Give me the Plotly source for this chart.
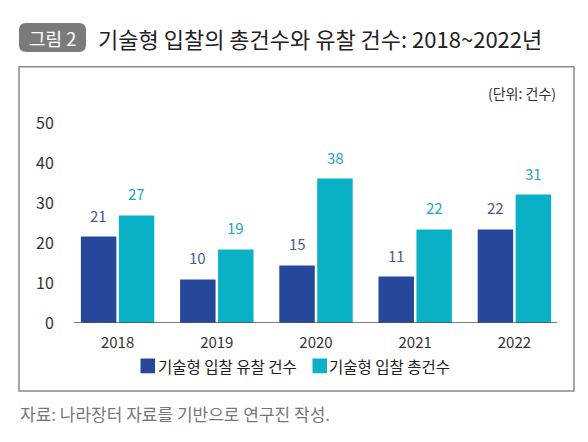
import plotly.graph_objects as go

# ---- data ----
years = ["2018", "2019", "2020", "2021", "2022"]
fail_labels = [21, 10, 15, 11, 22]          # 기술형 입찰 유찰 건수 (printed labels)
total_labels = [27, 19, 38, 22, 31]         # 기술형 입찰 총건수 (printed labels)
fail_bar_heights = [21.6, 10.9, 14.4, 11.6, 23.4]   # bar heights as drawn
total_bar_heights = [26.9, 18.4, 36.1, 23.4, 32.1]
y_ticks = [0, 10, 20, 30, 40, 50]
series_names = ["기술형 입찰 유찰 건수", "기술형 입찰 총건수"]

FONT = "Noto Sans CJK KR"
BLUE = "#26489b"
TEAL = "#0ab1c6"
BLUE_TXT = "#4a5a9c"
TEAL_TXT = "#22a8bd"

OFF = 8                     # page body margin
FW, FH = 588 - OFF, 442 - OFF
L, R, T, B = 60, 24, 107, 119
W = FW - L - R
H = FH - T - B
Y0 = FH - B


def xp(px):
    return (px - OFF - L) / W


def yp(py):
    return (Y0 - (py - OFF)) / H


def rounded_rect(x0, y0, x1, y1, r):
    rx = r / W
    ry = r / H
    a, b, c, d = xp(x0), yp(y1), xp(x1), yp(y0)  # left, bottom, right, top
    return (f"M {a+rx},{b} L {c-rx},{b} Q {c},{b} {c},{b+ry} "
            f"L {c},{d-ry} Q {c},{d} {c-rx},{d} L {a+rx},{d} "
            f"Q {a},{d} {a},{d-ry} L {a},{b+ry} Q {a},{b} {a+rx},{b} Z")


fig = go.Figure()
fig.add_trace(go.Bar(x=years, y=fail_bar_heights, name=series_names[0],
                     marker=dict(color=BLUE, line=dict(width=0)),
                     hoverinfo="skip"))
fig.add_trace(go.Bar(x=years, y=total_bar_heights, name=series_names[1],
                     marker=dict(color=TEAL, line=dict(width=0)),
                     hoverinfo="skip"))

annotations = []
for i in range(len(years)):
    annotations.append(dict(x=i, y=fail_bar_heights[i], xref="x", yref="y",
                            text=str(fail_labels[i]), showarrow=False,
                            xshift=-19, yshift=21.5, yanchor="middle",
                            font=dict(family=FONT, size=15, color=BLUE_TXT)))
    annotations.append(dict(x=i, y=total_bar_heights[i], xref="x", yref="y",
                            text=str(total_labels[i]), showarrow=False,
                            xshift=19, yshift=21.5, yanchor="middle",
                            font=dict(family=FONT, size=15, color=TEAL_TXT)))

# title
annotations.append(dict(x=xp(52.5), y=yp(37.5), xref="paper", yref="paper",
                        text="그림 2", showarrow=False, xanchor="center",
                        yanchor="middle",
                        font=dict(family=FONT, size=18, color="white")))
annotations.append(dict(x=xp(96), y=yp(38), xref="paper", yref="paper",
                        text="기술형 입찰의 총건수와 유찰 건수: 2018~2022년",
                        showarrow=False, xanchor="left", yanchor="middle",
                        font=dict(family=FONT, size=22, color="#222222")))
# unit
annotations.append(dict(x=xp(558), y=yp(93), xref="paper", yref="paper",
                        text="(단위: 건수)", showarrow=False, xanchor="right",
                        yanchor="middle",
                        font=dict(family=FONT, size=14, color="#333333")))
# legend texts
annotations.append(dict(x=xp(156), y=yp(366), xref="paper", yref="paper",
                        text=series_names[0], showarrow=False, xanchor="left",
                        yanchor="middle",
                        font=dict(family=FONT, size=15.5, color="#222222")))
annotations.append(dict(x=xp(327), y=yp(366), xref="paper", yref="paper",
                        text=series_names[1], showarrow=False, xanchor="left",
                        yanchor="middle",
                        font=dict(family=FONT, size=15.5, color="#222222")))
# source
annotations.append(dict(x=xp(18), y=yp(413), xref="paper", yref="paper",
                        text="자료: 나라장터 자료를 기반으로 연구진 작성.",
                        showarrow=False, xanchor="left", yanchor="middle",
                        font=dict(family=FONT, size=17, color="#777777")))

shapes = [
    # title pill
    dict(type="path", xref="paper", yref="paper",
         path=rounded_rect(19, 23, 86, 52, 7), fillcolor="#7b7b7b",
         line=dict(width=0)),
    # frame
    dict(type="rect", xref="paper", yref="paper", x0=xp(19), x1=xp(574),
         y0=yp(391), y1=yp(66.7), line=dict(color="#8c8c8c", width=1.5),
         fillcolor="rgba(0,0,0,0)"),
    # baseline
    dict(type="line", xref="paper", yref="y", x0=xp(74), x1=xp(557),
         y0=0, y1=0, line=dict(color="#555555", width=1.5)),
    # legend squares
    dict(type="rect", xref="paper", yref="paper", x0=xp(140.5), x1=xp(155),
         y0=yp(373.3), y1=yp(358.5), fillcolor=BLUE, line=dict(width=0)),
    dict(type="rect", xref="paper", yref="paper", x0=xp(312.5), x1=xp(327),
         y0=yp(373.3), y1=yp(358.5), fillcolor=TEAL, line=dict(width=0)),
]

fig.update_layout(
    width=FW, height=FH,
    margin=dict(l=L, r=R, t=T, b=B, pad=0),
    paper_bgcolor="white", plot_bgcolor="white",
    barmode="group", bargap=0.235, bargroupgap=0.065,
    showlegend=False,
    font=dict(family=FONT, color="#333333"),
    annotations=annotations,
    shapes=shapes,
    xaxis=dict(type="category", categoryorder="array", categoryarray=years,
               range=[-0.5, 4.5], showline=False, showgrid=False,
               zeroline=False, ticks="outside", ticklen=6,
               tickcolor="rgba(0,0,0,0)",
               tickfont=dict(family=FONT, size=15, color="#333333")),
    yaxis=dict(range=[0, 52], tickvals=y_ticks, showline=False,
               showgrid=False, zeroline=False, ticks="outside", ticklen=10,
               tickcolor="rgba(0,0,0,0)",
               tickfont=dict(family=FONT, size=16, color="#333333")),
)

fig.write_html("out.html")
